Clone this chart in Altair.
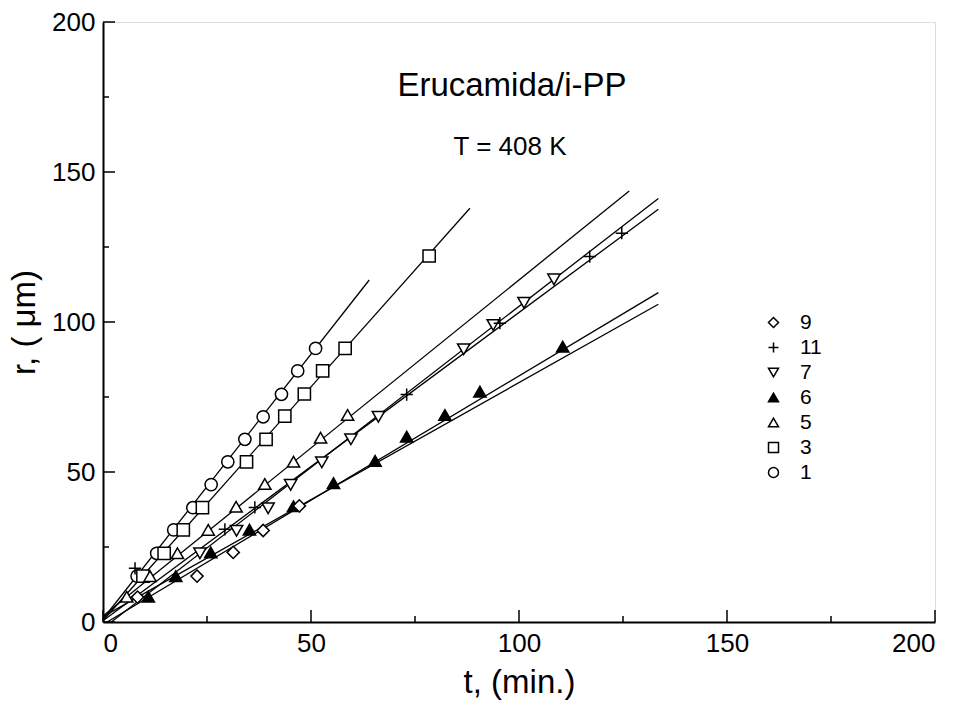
import altair as alt
import pandas as pd

# ---- data ----
series_order = ["9", "11", "7", "6", "5", "3", "1"]

t1 = [8.2, 12.9, 17.0, 21.6, 26.0, 30.0, 34.1, 38.5, 42.9, 46.8, 51.1]
r1 = [15.3, 22.9, 30.7, 38.1, 45.8, 53.4, 60.9, 68.4, 75.9, 83.7, 91.2]
t3 = [9.6, 14.7, 19.3, 23.9, 34.5, 39.2, 43.7, 48.4, 52.8, 58.2, 78.4]
r3 = [15.3, 22.9, 30.7, 38.1, 53.4, 60.9, 68.6, 76.0, 83.7, 91.2, 122.0]
t5 = [5.7, 11.3, 17.9, 25.3, 32.0, 38.9, 45.8, 52.3, 58.8]
r5 = [8.4, 15.3, 22.9, 30.7, 38.4, 46.0, 53.4, 61.4, 69.0]
t6 = [10.9, 17.5, 25.9, 35.2, 45.8, 55.4, 65.4, 73.0, 82.2, 90.6, 110.5]
r6 = [8.4, 15.3, 23.2, 30.8, 38.6, 46.3, 53.7, 61.8, 69.0, 76.8, 91.8]
t7 = [23.3, 32.1, 39.7, 45.1, 52.6, 59.6, 66.2, 86.7, 93.8, 101.2, 108.4]
r7 = [22.9, 30.4, 37.9, 45.7, 53.2, 60.9, 68.4, 90.9, 99.0, 106.4, 114.2]
t11 = [7.7, 29.3, 36.5, 73.0, 95.4, 117.0, 124.7]
r11 = [17.9, 30.9, 38.2, 75.8, 99.6, 121.8, 129.6]
t9 = [8.3, 22.6, 31.3, 38.5, 47.2]
r9 = [8.3, 15.3, 23.2, 30.5, 38.7]

# fitted straight lines (start and end points)
line_series = ["1", "3", "5", "7", "11", "6", "9"]
line_t_start = [0.0, 0.0, 0.0, 2.0, 0.0, 1.0, 0.0]
line_r_start = [1.0, 0.5, 2.0, 0.0, 0.4, 0.0, 1.8]
line_t_end = [64.0, 88.2, 126.5, 133.5, 133.5, 133.5, 133.5]
line_r_end = [114.0, 137.9, 143.7, 141.2, 137.6, 109.8, 105.9]

major_ticks = [0, 50, 100, 150, 200]
minor_ticks = [25, 75, 125, 175]

title_text = "Erucamida/i-PP"
temp_text = "T = 408 K"

# ---- tables ----
rows = []
for s, ts, rs in [("1", t1, r1), ("3", t3, r3), ("5", t5, r5), ("6", t6, r6),
                  ("7", t7, r7), ("11", t11, r11), ("9", t9, r9)]:
    for t, r in zip(ts, rs):
        rows.append({"serie": s, "t": t, "r": r})
pts = pd.DataFrame(rows)

lrows = []
for s, a, b, c, d in zip(line_series, line_t_start, line_r_start, line_t_end, line_r_end):
    lrows.append({"serie": s, "t": a, "r": b, "k": 0})
    lrows.append({"serie": s, "t": c, "r": d, "k": 1})
lines_df = pd.DataFrame(lrows)

major_df = pd.DataFrame({"v": major_ticks})
minor_df = pd.DataFrame({"v": minor_ticks})

W, H = 832, 600
FONT = "Liberation Sans"

plus_path = "M-1,0H1M0,-1V1"
shape_range = ["diamond", plus_path, "triangle-down", "triangle-up", "triangle-up", "square", "circle"]
fill_range = ["white", "white", "white", "black", "white", "white", "white"]
stroke_range = ["black"] * 7

xs = alt.Scale(domain=[0, 200], nice=False)
ys = alt.Scale(domain=[0, 200], nice=False)

axis_kw = dict(values=major_ticks, ticks=False, grid=False,
               labelFontSize=26, labelPadding=8, titleFontSize=33, titleFontWeight="normal",
               domainColor="black", domainWidth=2, labelColor="black",
               titleColor="black", labelFont=FONT, titleFont=FONT)
xaxis = alt.Axis(title="t, (min.)", titlePadding=10, **axis_kw)
yaxis = alt.Axis(title="r, ( μm)", titlePadding=10, **axis_kw)

legend_kw = dict(orient="none", legendX=660, legendY=290, title=None, labelFontSize=21,
                 labelFont=FONT, labelColor="black", symbolSize=100, symbolStrokeWidth=1.5,
                 rowPadding=3, labelOffset=16)

line_layer = alt.Chart(lines_df).mark_line(color="black", strokeWidth=1.3).encode(
    x=alt.X("t:Q", scale=xs, axis=xaxis),
    y=alt.Y("r:Q", scale=ys, axis=yaxis),
    detail="serie:N",
    order="k:Q",
)

point_layer = alt.Chart(pts).mark_point(strokeWidth=1.5, size=150, opacity=1,
                                        filled=False).encode(
    x=alt.X("t:Q", scale=xs),
    y=alt.Y("r:Q", scale=ys),
    shape=alt.Shape("serie:N", scale=alt.Scale(domain=series_order, range=shape_range),
                    legend=alt.Legend(**legend_kw)),
    fill=alt.Fill("serie:N", scale=alt.Scale(domain=series_order, range=fill_range),
                  legend=alt.Legend(**legend_kw)),
    stroke=alt.Stroke("serie:N", scale=alt.Scale(domain=series_order, range=stroke_range),
                      legend=alt.Legend(**legend_kw)),
)


def xticks(df, L):
    return alt.Chart(df).mark_rule(color="black", strokeWidth=1.5).encode(
        x=alt.X("v:Q", scale=xs), y=alt.value(H), y2=alt.value(H - L))


def yticks(df, L):
    return alt.Chart(df).mark_rule(color="black", strokeWidth=1.5).encode(
        y=alt.Y("v:Q", scale=ys), x=alt.value(0), x2=alt.value(L))


title_layer = alt.Chart(pd.DataFrame({"label": [title_text]})).mark_text(
    fontSize=33, font=FONT, color="black", align="center", baseline="middle").encode(
    text="label:N", x=alt.value(409), y=alt.value(64))
temp_layer = alt.Chart(pd.DataFrame({"label": [temp_text]})).mark_text(
    fontSize=26, font=FONT, color="black", align="center", baseline="middle").encode(
    text="label:N", x=alt.value(407), y=alt.value(125))

chart = alt.layer(
    line_layer, point_layer,
    xticks(major_df, 12), xticks(minor_df, 6),
    yticks(major_df, 12), yticks(minor_df, 6),
    title_layer, temp_layer,
).properties(
    width=W, height=H,
    padding={"left": 103, "top": 22, "right": 30, "bottom": 88},
    autosize=alt.AutoSizeParams(type="none"),
).configure_view(
    stroke="black", strokeWidth=1.5
).configure(background="white")

chart.save("out.html", embed_options={"renderer": "svg", "actions": False})
